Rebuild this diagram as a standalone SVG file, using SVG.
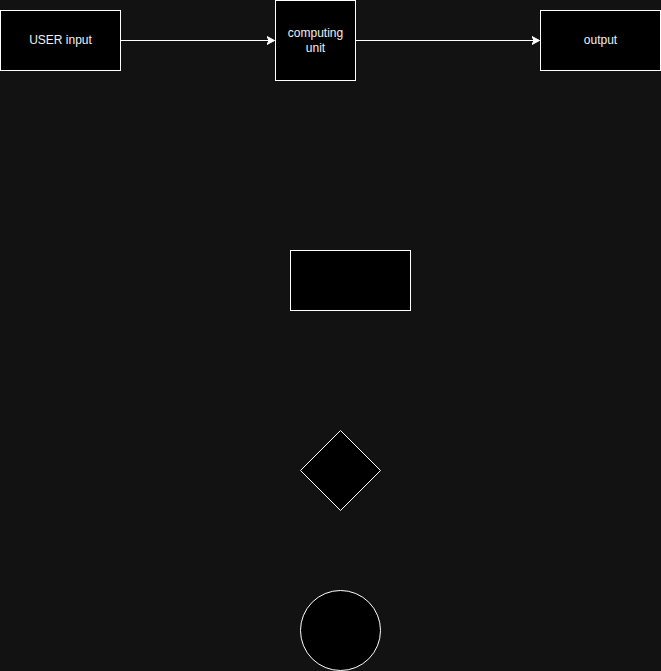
<svg xmlns="http://www.w3.org/2000/svg" width="661" height="671" viewBox="0 0 661 671">
<style>
.shape{fill:#000000;stroke:#ffffff;stroke-width:1}
.lbl{font-family:"Liberation Sans",Arial,Helvetica,sans-serif;font-size:12px;fill:#f0f0f0;text-anchor:middle}
.edge{stroke:#ffffff;stroke-width:1;fill:none}
</style>
<defs>
<marker id="arr" markerUnits="userSpaceOnUse" markerWidth="12" markerHeight="10" refX="8" refY="5" orient="auto">
<path d="M0.5,1 L8,5 L0.5,9 L2.5,5 Z" fill="#ffffff" stroke="#ffffff" stroke-width="1"/>
</marker>
</defs>
<rect x="0" y="0" width="661" height="671" fill="#121212"/>
<g id="connectors">
<path class="edge" d="M120.5,40.5 L274.5,40.5" marker-end="url(#arr)"/>
<path class="edge" d="M355.5,40.5 L539.5,40.5" marker-end="url(#arr)"/>
</g>
<g id="user-input">
<rect class="shape" x="0.5" y="10.5" width="120" height="60"/>
<text class="lbl" x="60.5" y="44">USER input</text>
</g>
<g id="computing-unit">
<rect class="shape" x="275.5" y="0.5" width="80" height="80"/>
<text class="lbl" x="315.5" y="37">computing</text>
<text class="lbl" x="315.5" y="51.5">unit</text>
</g>
<g id="output">
<rect class="shape" x="540.5" y="10.5" width="120" height="60"/>
<text class="lbl" x="600.5" y="44">output</text>
</g>
<g id="rectangle">
<rect class="shape" x="290.5" y="250.5" width="120" height="60"/>
</g>
<g id="diamond">
<path class="shape" d="M340.5,430.5 L380.5,470.5 L340.5,510.5 L300.5,470.5 Z"/>
</g>
<g id="circle">
<circle class="shape" cx="340.5" cy="630.5" r="40"/>
</g>
</svg>
